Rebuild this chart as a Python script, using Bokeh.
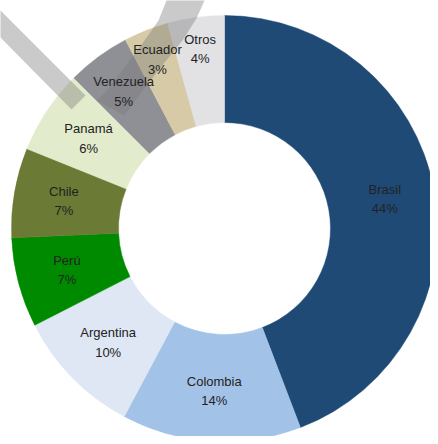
import numpy as np
from bokeh.plotting import figure
from bokeh.models import Range1d, ColumnDataSource
from bokeh.core.properties import value
from bokeh.embed import file_html
from bokeh.resources import INLINE

# ---- data (shares read from the slice boundaries; labels show them rounded) ----
countries = ["Brasil", "Colombia", "Argentina", "Perú", "Chile", "Panamá", "Venezuela", "Ecuador", "Otros"]
shares = [44.2, 13.6, 9.7, 6.8, 6.8, 6.4, 4.8, 3.4, 4.3]
colors = ["#1F4A76", "#A3C2E8", "#DEE7F3", "#008A00", "#6B7A35", "#E2EBCB", "#8F8F96", "#D6CBA6", "#E2E2E4"]

# ---- geometry (pixels) ----
CX, CY = 224, 228          # position of the donut centre in the picture
R_OUT, R_IN, R_LAB = 213, 106, 163
LABEL_R = {"Venezuela": 170, "Ecuador": 182, "Otros": 181}   # small slices: labels pushed outward

W, H = 430, 436
p = figure(width=W, height=H, output_backend="svg", toolbar_location=None,
           x_range=Range1d(-CX, W - CX), y_range=Range1d(CY - H, CY),
           min_border=0, outline_line_color=None)
p.axis.visible = False
p.grid.visible = False
p.background_fill_color = "white"
p.border_fill_color = "white"

vals = np.array(shares, dtype=float)
frac = vals / vals.sum()
c1 = np.cumsum(frac)
c0 = c1 - frac
start = np.pi / 2 - 2 * np.pi * c1
end = np.pi / 2 - 2 * np.pi * c0
mid = (start + end) / 2
lr = np.array([LABEL_R.get(c, R_LAB) for c in countries], dtype=float)

src = ColumnDataSource(dict(
    start=start, end=end, color=colors,
    lx=lr * np.cos(mid), ly=lr * np.sin(mid),
    label=[f"{c}\n{round(v):d}%" for c, v in zip(countries, shares)],
))

p.annular_wedge(x=0, y=0, inner_radius=R_IN, outer_radius=R_OUT,
                start_angle="start", end_angle="end", fill_color="color",
                line_color="color", line_width=0.5, source=src)

# ---- decorative semi-transparent watermark bands seen in the reference ----
def tp(pts):
    return [x - CX for x, y in pts], [CY - y for x, y in pts]

band1 = [(-10, 0), (85, 95), (71, 109), (-10, 27)]
band2 = [(214, -12), (204, 0), (196, 18), (182, 40), (160, 67), (140, 93), (124, 115),
         (96, 100), (104, 93), (124, 67), (144, 40), (158, 20), (166, 0), (172, -12)]
for b in (band1, band2):
    xs, ys = tp(b)
    p.patch(xs, ys, fill_color="#7a7a7a", fill_alpha=0.4, line_color=None)

p.text(x="lx", y="ly", text="label", source=src, text_align="center",
       text_baseline="middle", text_font=value("Liberation Sans"),
       text_font_size="13px", text_color="#222222", text_line_height=1.3)

open("out.html", "w").write(file_html(p, INLINE))
